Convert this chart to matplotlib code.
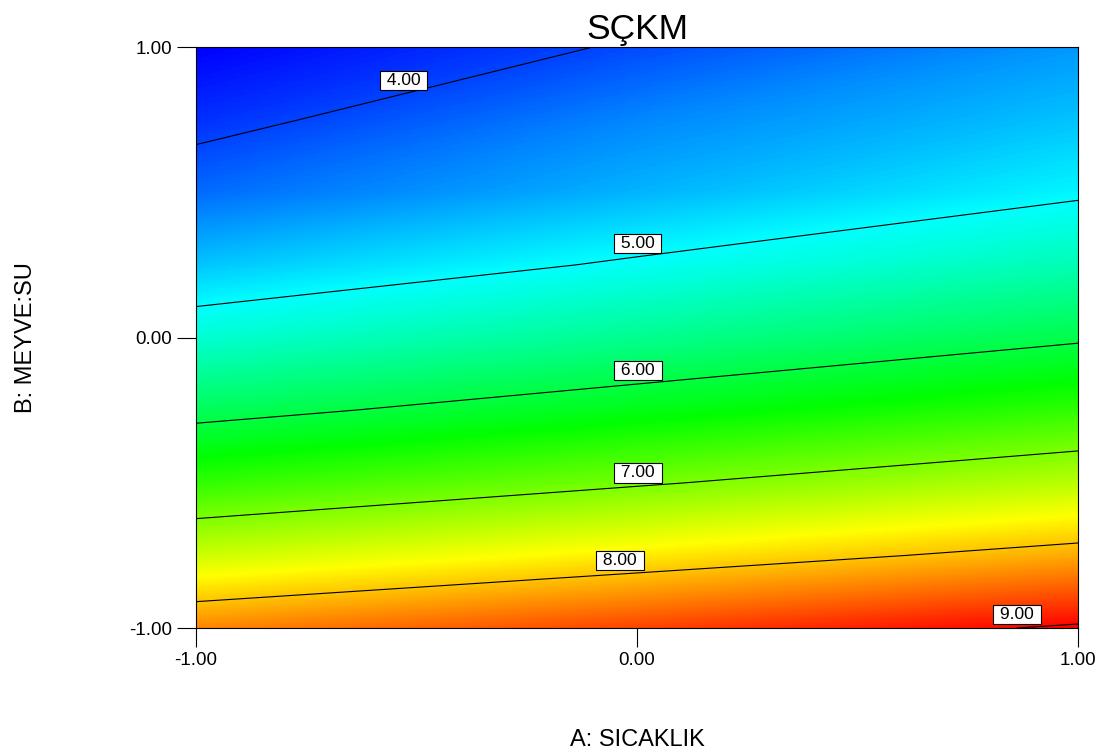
import numpy as np
import matplotlib.pyplot as plt
from matplotlib.colors import LinearSegmentedColormap

plt.rcParams['font.family'] = ['Liberation Sans', 'DejaVu Sans']

# coded factor levels
a_levels = [-1.0, 0.0, 1.0]                      # A: SICAKLIK
b_levels = [-1.0, -0.75, -0.5, -0.25, 0.0, 0.25, 0.5, 0.75, 1.0]  # B: MEYVE:SU

# SCKM response, one list per A level (bottom -> top in B)
z_a_low = [8.33, 7.42, 6.59, 5.87, 5.23, 4.69, 4.21, 3.89, 3.64]
z_a_mid = [8.69, 7.78, 6.96, 6.23, 5.59, 5.05, 4.60, 4.36, 4.04]
z_a_high = [9.05, 8.14, 7.32, 6.59, 5.95, 5.40, 4.95, 4.68, 4.45]

contour_levels = [4, 5, 6, 7, 8, 9]
tick_values = [-1.0, 0.0, 1.0]

# where the contour labels sit (coded units)
label_spots = [(-0.53, 0.84), (0.0, 0.29), (0.0, -0.13),
               (0.0, -0.47), (-0.04, -0.77), (0.85, -0.99)]

Z = np.column_stack([z_a_low, z_a_mid, z_a_high])

fig = plt.figure(figsize=(10.97, 7.56), dpi=100)
ax = fig.add_axes([0.1787, 0.1693, 0.804, 0.7685])

# Design-Expert style rainbow: blue -> cyan -> green -> yellow -> red
cmap = LinearSegmentedColormap.from_list(
    'dx', ['#0000ff', '#00ffff', '#00ff00', '#ffff00', '#ff0000'])
ax.contourf(a_levels, b_levels, Z,
            levels=np.linspace(Z.min(), Z.max(), 257), cmap=cmap)

cs = ax.contour(a_levels, b_levels, Z, levels=contour_levels,
                colors='black', linewidths=0.8)
labels = ax.clabel(cs, fmt='%.2f', manual=label_spots, inline=False,
                   fontsize=12.5, colors='black')
for t in labels:
    x, y = t.get_position()
    t.set_position((x, y + 0.02))
    t.set_text(' ' + t.get_text() + ' ')
    t.set_rotation(0)
    t.set_verticalalignment('bottom')
    t.set_horizontalalignment('center')
    t.set_bbox(dict(boxstyle='square,pad=0.12', facecolor='white',
                    edgecolor='black', linewidth=0.8))

ax.set_xlim(-1, 1)
ax.set_ylim(-1, 1)
ax.set_xticks(tick_values)
ax.set_yticks(tick_values)
ax.set_xticklabels(['%.2f' % v for v in tick_values])
ax.set_yticklabels(['%.2f' % v for v in tick_values])
ax.tick_params(direction='out', length=14, width=0.8, labelsize=13.5,
               pad=3, colors='black')
for s in ax.spines.values():
    s.set_linewidth(0.8)

ax.set_title('SÇKM', fontsize=25.5, pad=6)
ax.set_xlabel('A: SICAKLIK', fontsize=17)
ax.set_ylabel('B: MEYVE:SU', fontsize=17)
ax.xaxis.set_label_coords(0.5, -0.174)
ax.yaxis.set_label_coords(-0.18, 0.5)

fig.savefig('out.png', dpi=100)
